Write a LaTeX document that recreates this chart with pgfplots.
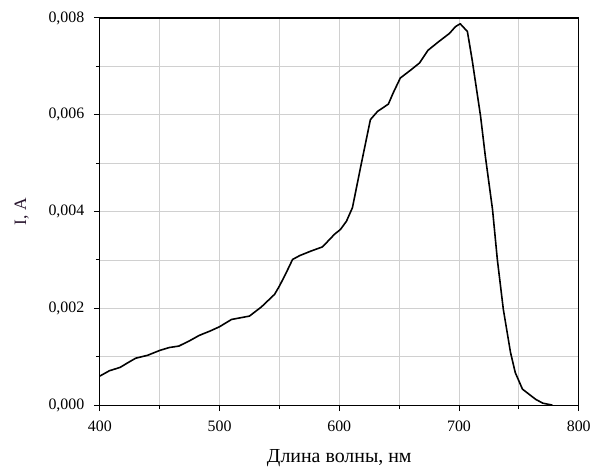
\documentclass[border=0pt]{standalone}
\usepackage{pgfplots}
\pgfplotsset{compat=1.18}
\usepackage{fontspec}
\setmainfont{Liberation Serif}
\definecolor{gridc}{RGB}{208,208,208}
\definecolor{ylab}{RGB}{40,20,45}
\begin{document}
\begin{tikzpicture}
\begin{axis}[
  name=main,
  scale only axis,
  width=480bp, height=388bp,
  xmin=400, xmax=800, ymin=0, ymax=0.008,
  xtick={400,500,600,700,800},
  minor xtick={450,550,650,750},
  ytick={0,0.002,0.004,0.006,0.008},
  minor ytick={0.001,0.003,0.005,0.007},
  grid=both,
  major grid style={gridc, line width=0.8pt},
  minor grid style={gridc, line width=0.8pt},
  tick pos=left,
  tick align=outside,
  major tick length=6bp,
  minor tick length=4bp,
  tick style={black, line width=1pt},
  axis line style={line width=1.2pt},
  scaled y ticks=false,
  /pgf/number format/assume math mode=true,
  yticklabel style={xshift=-6bp, /pgf/number format/.cd, fixed, fixed zerofill, precision=3, use comma},
  xticklabel style={yshift=-6bp, /pgf/number format/.cd, fixed, 1000 sep={}},
  ticklabel style={font=\fontsize{16}{18}\selectfont},
  xlabel={Длина волны, нм},
  ylabel={I, A},
  xlabel style={font=\fontsize{20}{22}\selectfont, inner sep=0pt, anchor=north,
    at={([yshift=-44bp]axis description cs:0.5,0)}},
  ylabel style={font=\fontsize{17.5}{20}\selectfont, text=ylab, inner sep=0pt, anchor=south,
    at={([xshift=-71bp]axis description cs:0,0.5)}},
]
\addplot[black, line width=1.6pt, line join=round] coordinates {
(400,0.00060) (408,0.00071) (417,0.00078) (423,0.00087) (430,0.00097)
(440,0.00103) (450,0.00113) (458,0.00119) (466,0.00122) (475,0.00133)
(483,0.00144) (492,0.00153) (500,0.00162) (510,0.00177) (525,0.00184)
(535,0.00203) (546,0.00229) (550,0.00246) (555,0.00270) (561,0.00301)
(567,0.00309) (576,0.00318) (586,0.00327) (596,0.00353) (601,0.00363)
(606,0.00380) (611,0.00408) (618,0.00494) (626,0.00590) (632,0.00607)
(641,0.00622) (645,0.00645) (651,0.00676) (660,0.00693) (667,0.00707)
(674,0.00733) (683,0.00751) (692,0.00768) (697,0.00782) (701,0.00788)
(707,0.00772) (711,0.00713) (718,0.00597) (722,0.00514) (728,0.00404)
(732,0.00301) (737,0.00198) (743,0.00109) (747,0.00067) (753,0.00033)
(764,0.00012) (770,0.00004) (778,0.00000)
};
\end{axis}
\path (main.west) ++(-100bp,0) coordinate (padL);
\path (main.north) ++(0,18bp) coordinate (padT);
\path (main.east) ++(14bp,0) coordinate (padR);
\end{tikzpicture}
\end{document}
